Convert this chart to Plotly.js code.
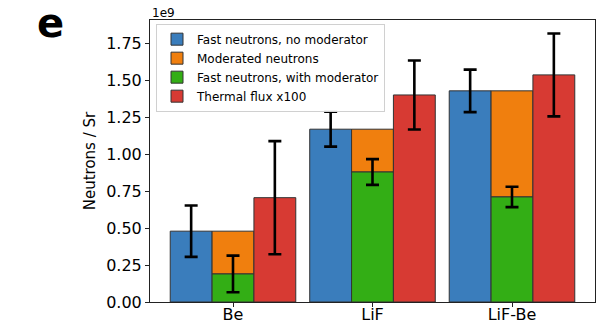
<!DOCTYPE html>
<html>
<head>
<meta charset="utf-8">
<script src="https://cdn.plot.ly/plotly-3.0.1.min.js"></script>
<style>html,body{margin:0;padding:0;background:#fff;}#chart{width:599px;height:324px;}</style>
</head>
<body>
<div id="chart"></div>
<script>
// Data (units of 1e9 neutrons / sr)
const categories = ["Be", "LiF", "LiF-Be"];
const fastNoMod = [0.48, 1.171, 1.431];
const fastNoModErr = [0.174, 0.118, 0.144];
const fastWithMod = [0.19, 0.881, 0.712];
const fastWithModErr = [0.124, 0.087, 0.069];
const moderated = [0.29, 0.29, 0.719];
const thermalX100 = [0.707, 1.403, 1.539];
const thermalErr = [0.383, 0.234, 0.281];
const seriesNames = ["Fast neutrons, no moderator", "Moderated neutrons", "Fast neutrons, with moderator", "Thermal flux x100"];

const colors = ["#3a7dbc", "#f07f0e", "#33ae15", "#d73a33"];
const edge = {color: "#333333", width: 1};
const err = (arr) => ({type: "data", array: arr, visible: true, color: "#000", thickness: 2.6, width: 6.5});
const W = 0.3;

const traces = [
  {type: "bar", name: seriesNames[0], x: categories, y: fastNoMod, offset: -1.5 * W, width: W,
   marker: {color: colors[0], line: edge}, error_y: err(fastNoModErr)},
  {type: "bar", name: seriesNames[1], x: categories, y: moderated, base: fastWithMod, offset: -0.5 * W, width: W,
   marker: {color: colors[1], line: edge}},
  {type: "bar", name: seriesNames[2], x: categories, y: fastWithMod, offset: -0.5 * W, width: W,
   marker: {color: colors[2], line: edge}, error_y: err(fastWithModErr)},
  {type: "bar", name: seriesNames[3], x: categories, y: thermalX100, offset: 0.5 * W, width: W,
   marker: {color: colors[3], line: edge}, error_y: err(thermalErr)}
];

const font = {family: "DejaVu Sans", size: 16, color: "#000"};
const layout = {
  width: 599, height: 324,
  margin: {l: 150, r: 4, t: 20, b: 22, pad: 0},
  paper_bgcolor: "#fff", plot_bgcolor: "#fff",
  barmode: "overlay",
  font: font,
  showlegend: true,
  legend: {x: 0.0135, y: 0.987, xanchor: "left", yanchor: "top",
    bgcolor: "rgba(255,255,255,0.9)", bordercolor: "#d0d0d0", borderwidth: 1,
    font: {family: "DejaVu Sans", size: 12, color: "#000"}, traceorder: "normal",
    tracegroupgap: 0, itemwidth: 30},
  xaxis: {type: "category", range: [-0.595, 2.595], showgrid: false, zeroline: false,
    showline: true, mirror: true, linecolor: "#222", linewidth: 1,
    ticks: "outside", ticklen: 4, tickcolor: "#222", tickfont: font, ticklabelstandoff: -6},
  yaxis: {range: [0, 1.911], showgrid: false, zeroline: false,
    showline: true, mirror: true, linecolor: "#222", linewidth: 1,
    ticks: "outside", ticklen: 4, tickcolor: "#222",
    tickvals: [0, 0.25, 0.5, 0.75, 1.0, 1.25, 1.5, 1.75],
    ticktext: ["0.00", "0.25", "0.50", "0.75", "1.00", "1.25", "1.50", "1.75"],
    tickfont: font,
    title: {text: "Neutrons / Sr", font: {family: "DejaVu Sans", size: 15, color: "#000"}, standoff: 6}},
  annotations: [
    {text: "1e9", xref: "paper", yref: "paper", x: 0, y: 1, xanchor: "left", yanchor: "bottom",
     showarrow: false, font: {family: "DejaVu Sans", size: 12, color: "#000"}, yshift: -2},
    {text: "<b>e</b>", xref: "paper", yref: "paper", x: -0.2247, y: 0.989, xanchor: "center", yanchor: "middle",
     showarrow: false, font: {family: "DejaVu Sans", size: 40, color: "#000"}}
  ]
};

Plotly.newPlot("chart", traces, layout, {displayModeBar: false, staticPlot: true});
</script>
</body>
</html>
